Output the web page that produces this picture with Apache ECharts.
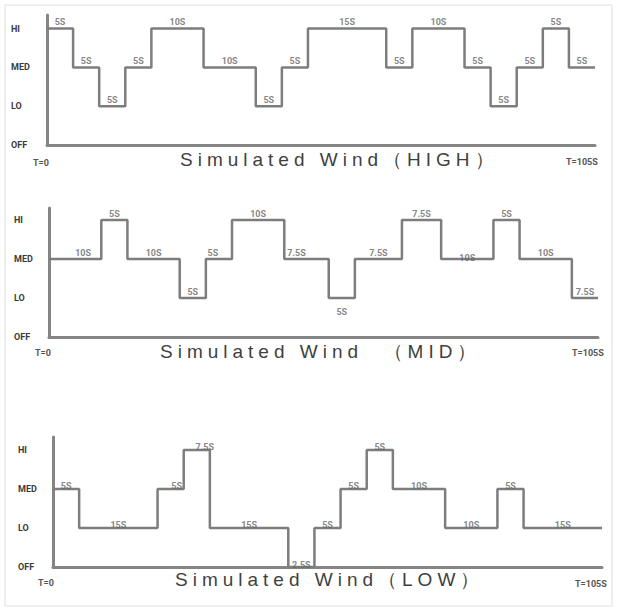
<!DOCTYPE html>
<html><head><meta charset="utf-8">
<script src="https://cdn.jsdelivr.net/npm/echarts@6/dist/echarts.min.js"></script>
<style>
html,body{margin:0;padding:0;background:#fff;}
#c{width:617px;height:613px;}
text[style*="Liberation Sans"]{letter-spacing:5px;white-space:pre;}
</style></head><body><div id="c"></div>
<script>
// ---- data ----
const levelNames = ['OFF', 'LO', 'MED', 'HI'];

const highTimes  = [0, 5, 10, 15, 20, 30, 40, 45, 50, 65, 70, 80, 85, 90, 95, 100, 105];
const highLevels = [3, 2, 1, 2, 3, 2, 1, 2, 3, 2, 3, 2, 1, 2, 3, 2];
const highLabels = ['5S','5S','5S','5S','10S','10S','5S','5S','15S','5S','10S','5S','5S','5S','5S','5S'];

const midTimes  = [0, 10, 15, 25, 30, 35, 45, 53.5, 58.5, 67.5, 75, 85, 90, 100, 105];
const midLevels = [2, 3, 2, 1, 2, 3, 2, 1, 2, 3, 2, 3, 2, 1];
const midLabels = ['10S','5S','10S','5S','5S','10S','7.5S','5S','7.5S','7.5S','10S','5S','10S','7.5S'];

const lowTimes  = [0, 5, 20, 25, 30, 45, 50, 55, 60, 65, 75, 85, 90, 105];
const lowLevels = [2, 1, 2, 3, 1, 0, 1, 2, 3, 2, 1, 2, 1];
const lowLabels = ['5S','15S','5S','7.5S','15S','2.5S','5S','5S','5S','10S','10S','5S','15S'];

const titles = ['Simulated Wind（HIGH）', 'Simulated Wind  （MID）', 'Simulated Wind（LOW）'];
const startText = 'T=0';
const endText = 'T=105S';

// ---- layout ----
const panels = [
  {times: highTimes, levels: highLevels, labels: highLabels,
   grid: {left: 47, top: 15, right: 22, height: 130}, ymax: 3.35, ylabMargin: 36,
   dist: 2, overrides: {},
   title: [180, 159], t0: [41, 163], tEnd: [566, 162]},
  {times: midTimes, levels: midLevels, labels: midLabels,
   grid: {left: 49, top: 208, right: 19, height: 129}, ymax: 3.31, ylabMargin: 35,
   dist: 2, overrides: {0: {offset: [8, 0]}, 4: {offset: [-6, 0]}, 6: {offset: [-10, 0]},
     7: {position: 'bottom', distance: 9}, 10: {distance: -3}},
   title: [160, 351], t0: [43, 353], tEnd: [572, 353]},
  {times: lowTimes, levels: lowLevels, labels: lowLabels,
   grid: {left: 53, top: 437, right: 15, height: 130}, ymax: 3.33, ylabMargin: 35,
   dist: -2, overrides: {2: {offset: [6, 0]}, 3: {offset: [8, 0]}},
   title: [175, 579], t0: [46, 583], tEnd: [575, 584]}
];

const lineColor = '#7d7d7d';
const axisColor = '#858585';
const smallFont = 'Roboto';

const grids = [], xAxes = [], yAxes = [], series = [], graphics = [];

graphics.push({type: 'rect', shape: {x: 5, y: 5, width: 607, height: 601},
  style: {fill: 'none', stroke: '#dedede', lineWidth: 1}, silent: true});

panels.forEach((p, i) => {
  grids.push(p.grid);
  xAxes.push({type: 'value', gridIndex: i, min: 0, max: 105,
    axisLine: {show: true, lineStyle: {color: axisColor, width: 3}},
    axisTick: {show: false}, axisLabel: {show: false}, splitLine: {show: false}});
  yAxes.push({type: 'value', gridIndex: i, min: 0, max: p.ymax, interval: 1,
    axisLine: {show: true, lineStyle: {color: axisColor, width: 3}},
    axisTick: {show: false}, splitLine: {show: false},
    axisLabel: {show: true, align: 'left', margin: p.ylabMargin,
      fontFamily: smallFont, fontSize: 9, fontWeight: 'bold', color: '#3a3a3a',
      formatter: v => (Number.isInteger(v) && levelNames[v]) ? levelNames[v] : ''}});
  const stepData = p.levels.map((lv, k) => [p.times[k], lv]);
  stepData.push([p.times[p.times.length - 1], p.levels[p.levels.length - 1]]);
  series.push({type: 'line', xAxisIndex: i, yAxisIndex: i, step: 'end',
    data: stepData, showSymbol: false, symbol: 'none', silent: true,
    lineStyle: {color: lineColor, width: 2.5}, z: 3});
  const labData = p.labels.map((txt, k) => {
    const item = {value: [(p.times[k] + p.times[k + 1]) / 2, p.levels[k], txt]};
    if (p.overrides[k]) item.label = p.overrides[k];
    return item;
  });
  series.push({type: 'scatter', xAxisIndex: i, yAxisIndex: i, symbolSize: 0,
    data: labData, silent: true, z: 5,
    label: {show: true, position: 'top', distance: p.dist,
      formatter: prm => prm.data.value[2],
      fontFamily: smallFont, fontSize: 9, fontWeight: 'bold', color: '#666'}});
  graphics.push({type: 'text', silent: true, style: {text: titles[i],
    x: p.title[0], y: p.title[1], textAlign: 'left', textVerticalAlign: 'middle',
    fontFamily: 'Liberation Sans', fontSize: 19, fill: '#3f3f3f'}});
  graphics.push({type: 'text', silent: true, style: {text: startText,
    x: p.t0[0], y: p.t0[1], textAlign: 'center', textVerticalAlign: 'middle',
    fontFamily: smallFont, fontSize: 9, fontWeight: 'bold', fill: '#555'}});
  graphics.push({type: 'text', silent: true, style: {text: endText,
    x: p.tEnd[0], y: p.tEnd[1], textAlign: 'left', textVerticalAlign: 'middle',
    fontFamily: smallFont, fontSize: 9, fontWeight: 'bold', fill: '#555'}});
});

const chart = echarts.init(document.getElementById('c'), null, {renderer: 'svg'});
chart.setOption({
  animation: false,
  backgroundColor: '#fff',
  grid: grids, xAxis: xAxes, yAxis: yAxes, series: series, graphic: graphics
});
</script></body></html>
